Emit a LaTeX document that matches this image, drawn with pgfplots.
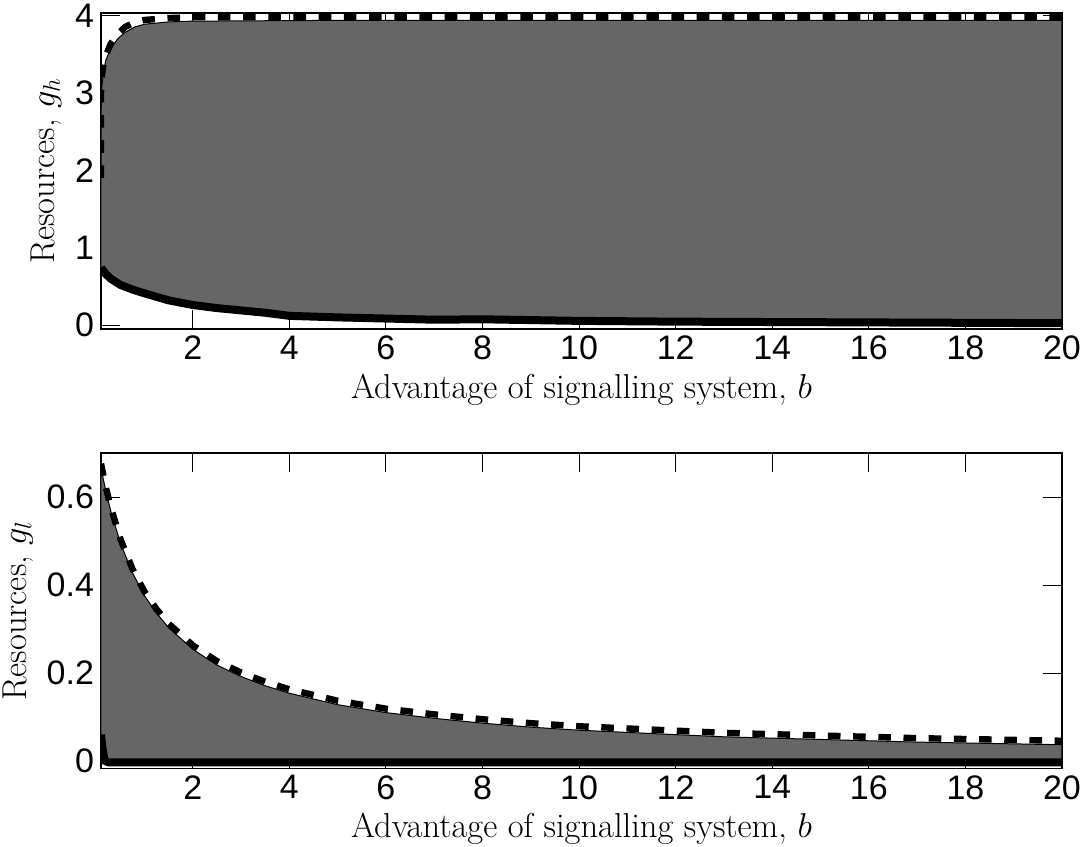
\documentclass[border=0pt]{standalone}
\usepackage{fontspec}
\usepackage{pgfplots}
\pgfplotsset{compat=1.18}
\newfontfamily\helv{Liberation Sans}
\definecolor{fillgray}{RGB}{102,102,102}

\pgfplotsset{
  matlab/.style={
    scale only axis,
    width=480.5pt,
    xmin=0.1, xmax=20,
    xtick={2,4,...,20},
    tick align=inside,
    tick pos=both,
    major tick length=9.5pt,
    axis line style={line width=0.75pt},
    every tick/.style={black, line width=0.5pt},
    ticklabel style={font=\helv\fontsize{17}{20}\selectfont},
    /pgf/number format/assume math mode=true,
    label style={font=\fontsize{17.28}{20}\selectfont},
    xlabel={Advantage of signalling system, $b$},
    clip=true,
  },
  lowline/.style={black, line width=4pt},
  upline/.style={black, line width=3.2pt, dash pattern=on 6.3pt off 6.3pt},
  area/.style={fill=fillgray, draw=black, line width=0.5pt},
}

\begin{document}
\begin{tikzpicture}
\useasboundingbox (-50.5pt,-259pt) rectangle (491.5pt,164.5pt);

% top panel: high type
\begin{axis}[matlab,
  height=158pt,
  ymin=-0.05, ymax=4.03,
  ytick={0,1,2,3,4},
  ylabel={Resources, $g_h$},
]
\addplot[area] coordinates {
  (0.1,2.0) (0.104,2.8) (0.12,3.1) (0.16,3.3) (0.2,3.42) (0.3,3.57)
  (0.45,3.7) (0.6,3.78) (0.8,3.85) (1,3.885) (1.5,3.915) (2,3.925)
  (5,3.935) (20,3.935)
  (20,0.025) (18,0.03) (16,0.035) (14,0.04) (12,0.045) (10,0.055)
  (9,0.065) (8,0.075) (7,0.07) (6,0.085) (5,0.1) (4,0.12) (3.5,0.16)
  (3,0.19) (2.5,0.22) (2,0.26) (1.5,0.32) (1,0.41) (0.75,0.46)
  (0.5,0.52) (0.3,0.6) (0.2,0.66) (0.1,0.74)
} -- cycle;
\addplot[lowline] coordinates {
  (0.1,0.74) (0.2,0.66) (0.3,0.6) (0.5,0.52) (0.75,0.46) (1,0.41)
  (1.5,0.32) (2,0.26) (2.5,0.22) (3,0.19) (3.5,0.16) (4,0.12) (5,0.1)
  (6,0.085) (7,0.07) (8,0.075) (9,0.065) (10,0.055) (12,0.045)
  (14,0.04) (16,0.035) (18,0.03) (20,0.025)
};
\addplot[upline] coordinates {
  (0.1,1.9) (0.1,3.0) (0.115,3.2) (0.15,3.36) (0.2,3.48) (0.3,3.63)
  (0.45,3.76) (0.6,3.85) (0.8,3.91) (1,3.94) (1.5,3.965)
  (2,3.975) (20,3.975)
};
\end{axis}

% bottom panel: low type
\begin{axis}[matlab,
  at={(0pt,-219.75pt)}, anchor=south west,
  height=157.75pt,
  ymin=-0.017, ymax=0.7,
  ytick={0,0.2,0.4,0.6},
  yticklabels={0,0.2,0.4,0.6},
  ylabel={Resources, $g_l$},
]
\addplot[area] coordinates {
  (0.1,0.666) (0.2,0.613) (0.3,0.569) (0.5,0.496) (0.75,0.428)
  (1,0.376) (1.25,0.336) (1.5,0.303) (2,0.254) (2.5,0.218) (3,0.192)
  (3.5,0.171) (4,0.154) (5,0.128) (6,0.110) (7,0.097) (8,0.086)
  (9,0.077) (10,0.070) (11,0.065) (12,0.060) (13,0.055) (14,0.052)
  (15,0.049) (16,0.046) (17,0.043) (18,0.041) (19,0.039) (20,0.037)
  (20,-0.003) (0.25,-0.003) (0.19,0.0) (0.16,0.01) (0.13,0.03)
  (0.1,0.06)
} -- cycle;
\addplot[lowline] coordinates {
  (0.1,0.06) (0.13,0.03) (0.16,0.01) (0.19,0.0) (0.25,-0.003)
  (20,-0.003)
};
\addplot[upline] coordinates {
  (0.1,0.676) (0.2,0.622) (0.3,0.578) (0.5,0.505) (0.75,0.437)
  (1,0.385) (1.25,0.345) (1.5,0.312) (2,0.263) (2.5,0.227) (3,0.201)
  (3.5,0.180) (4,0.163) (5,0.137) (6,0.119) (7,0.106) (8,0.095)
  (9,0.086) (10,0.079) (11,0.074) (12,0.069) (13,0.064) (14,0.061)
  (15,0.058) (16,0.055) (17,0.052) (18,0.050) (19,0.048) (20,0.046)
};
\end{axis}
\end{tikzpicture}
\end{document}
